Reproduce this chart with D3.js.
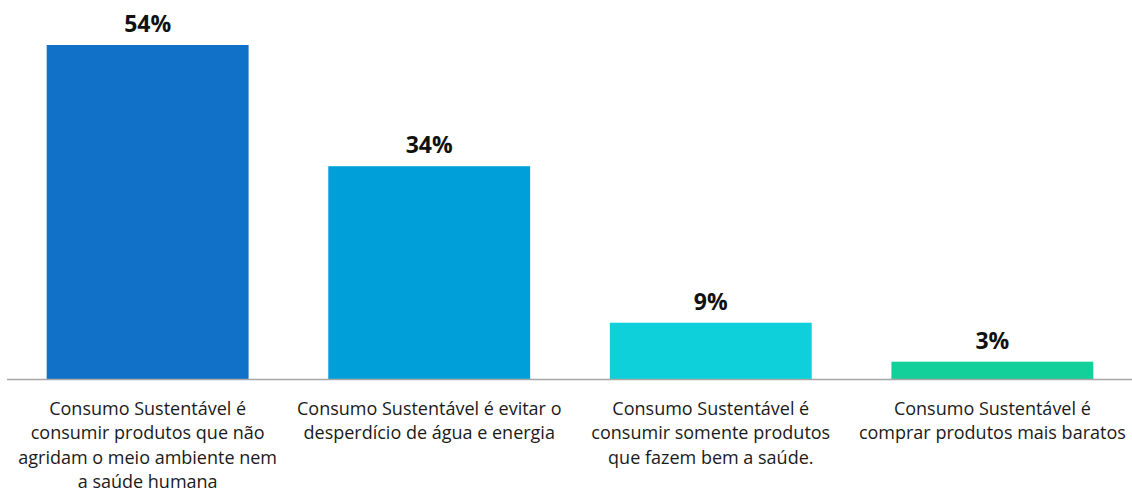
<!DOCTYPE html>
<html>
<head>
<meta charset="utf-8">
<script src="https://cdn.jsdelivr.net/npm/d3@7"></script>
<style>
  html, body { margin: 0; padding: 0; background: #fff; }
  svg { display: block; font-family: "Open Sans", "Noto Sans", sans-serif; }
  .value-label { font-weight: 700; font-size: 23px; fill: #111; }
  .cat-label { font-size: 18px; fill: #1a1a1a; }
</style>
</head>
<body>
<div id="chart"></div>
<script>
// data (bar heights suggest values slightly off the rounded labels)
const categories = ["c1", "c2", "c3", "c4"];
const values = [54, 34.4, 9.1, 2.8];
const catLines = [
  ["Consumo Sustentável é", "consumir produtos que não", "agridam o meio ambiente nem", "a saúde humana"],
  ["Consumo Sustentável é evitar o", "desperdício de água e energia"],
  ["Consumo Sustentável é", "consumir somente produtos", "que fazem bem a saúde."],
  ["Consumo Sustentável é", "comprar produtos mais baratos"]
];
const colors = ["#1170c8", "#019fda", "#0ed0da", "#13cf9a"];

const W = 1132, H = 493;
const baseY = 379;

const data = categories.map((c, i) => ({ id: c, value: values[i], lines: catLines[i], color: colors[i] }));

const svg = d3.select("#chart")
  .append("svg")
  .attr("width", W)
  .attr("height", H);

const x = d3.scaleBand()
  .domain(categories)
  .range([7, 1133])
  .paddingInner(0.283)
  .paddingOuter(0.141);

const y = d3.scaleLinear()
  .domain([0, 54])
  .range([baseY, 45]);

svg.selectAll(".bar")
  .data(data)
  .join("rect")
  .attr("class", "bar")
  .attr("x", d => x(d.id))
  .attr("y", d => y(d.value))
  .attr("width", x.bandwidth())
  .attr("height", d => baseY - y(d.value) + 1)
  .attr("fill", d => d.color);

// baseline
svg.append("line")
  .attr("x1", 7)
  .attr("x2", W)
  .attr("y1", baseY + 0.5)
  .attr("y2", baseY + 0.5)
  .attr("stroke", "#a6a6a6")
  .attr("stroke-width", 1.3);

svg.selectAll(".value-label")
  .data(data)
  .join("text")
  .attr("class", "value-label")
  .attr("x", d => x(d.id) + x.bandwidth() / 2)
  .attr("y", d => y(d.value) - 13)
  .attr("text-anchor", "middle")
  .text(d => Math.round(d.value) + "%");

const cats = svg.selectAll(".cat-label")
  .data(data)
  .join("text")
  .attr("class", "cat-label")
  .attr("text-anchor", "middle")
  .attr("transform", d => `translate(${x(d.id) + x.bandwidth() / 2}, 415)`);

cats.selectAll("tspan")
  .data(d => d.lines)
  .join("tspan")
  .attr("x", 0)
  .attr("y", (d, i) => i * 24.3)
  .text(d => d);
</script>
</body>
</html>
